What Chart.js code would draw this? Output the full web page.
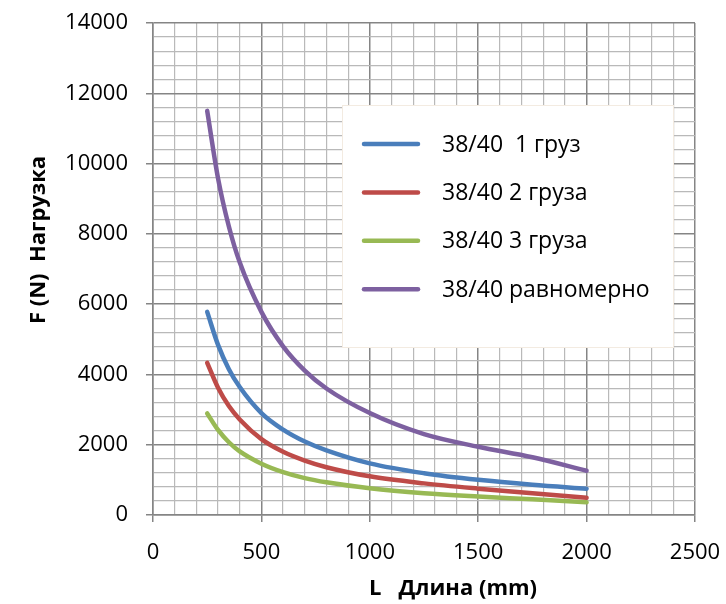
<!DOCTYPE html>
<html>
<head>
<meta charset="utf-8">
<script src="https://cdn.jsdelivr.net/npm/chart.js@4"></script>
<style>
  html, body { margin: 0; padding: 0; background: #fff; }
  #wrap { width: 726px; height: 604px; }
</style>
</head>
<body>
<div id="wrap"><canvas id="grafico"></canvas></div>
<script>
// длины пролёта, мм
const lengths = [250, 300, 350, 400, 500, 600, 700, 800, 1000, 1250, 1500, 1750, 2000];

// нагрузка F (N) по сериям
const load1 = [5780, 4840, 4150, 3640, 2900, 2430, 2090, 1840, 1470, 1190, 1000, 860, 750];
const load2 = [4330, 3620, 3100, 2720, 2160, 1800, 1550, 1360, 1100, 900, 750, 620, 490];
const load3 = [2890, 2420, 2070, 1810, 1460, 1220, 1050, 930, 760, 620, 525, 445, 360];
const loadUniform = [11500, 9580, 8210, 7190, 5780, 4800, 4110, 3600, 2900, 2300, 1940, 1643, 1260];

const seriesNames = ['38/40  1 груз', '38/40 2 груза', '38/40 3 груза', '38/40 равномерно'];
const seriesColors = ['#4a7ebb', '#be4b48', '#98b954', '#7d60a0'];

const xTitle = 'L   Длина (mm)';
const yTitle = 'F (N)  Нагрузка';

const majorGrid = '#858585';
const minorGrid = '#b9b9b9';
const FONT = '"Open Sans", sans-serif';

function toPoints(values) {
    return lengths.map((l, i) => ({ x: l, y: values[i] }));
}

const datasets = [load1, load2, load3, loadUniform].map((vals, i) => ({
    label: seriesNames[i],
    data: toPoints(vals),
    borderColor: seriesColors[i],
    backgroundColor: seriesColors[i],
    borderWidth: 4.5,
    borderCapStyle: 'round',
    borderJoinStyle: 'round',
    pointRadius: 0,
    cubicInterpolationMode: 'monotone',
    fill: false
}));

// легенда и подписи осей рисуются вручную, как в Excel
const excelDecor = {
    id: 'excelDecor',
    afterDraw(chart) {
        const ctx = chart.ctx;
        ctx.save();

        // рамка легенды
        ctx.fillStyle = '#ffffff';
        ctx.fillRect(342, 105, 332, 243);
        ctx.strokeStyle = '#f3ebe1';
        ctx.lineWidth = 1;
        ctx.strokeRect(342.5, 105.5, 331, 242);

        ctx.font = '23px ' + FONT;
        ctx.textBaseline = 'middle';
        ctx.textAlign = 'left';
        chart.data.datasets.forEach((ds, i) => {
            const y = 144 + i * 48.4;
            ctx.strokeStyle = ds.borderColor;
            ctx.lineWidth = 4.5;
            ctx.lineCap = 'round';
            ctx.beginPath();
            ctx.moveTo(364, y);
            ctx.lineTo(418, y);
            ctx.stroke();
            ctx.fillStyle = '#000';
            ctx.fillText(ds.label, 442, y + 1);
        });

        // подписи осей
        ctx.font = 'bold 22px ' + FONT;
        ctx.fillStyle = '#000';
        ctx.textAlign = 'center';
        ctx.fillText(xTitle, 453, 589);

        ctx.translate(39, 240);
        ctx.rotate(-Math.PI / 2);
        ctx.fillText(yTitle, 0, 0);
        ctx.restore();
    }
};

new Chart(document.getElementById('grafico'), {
    type: 'line',
    data: { datasets: datasets },
    options: {
        responsive: true,
        maintainAspectRatio: false,
        animation: false,
        layout: { padding: { left: 0, top: 23, right: 31, bottom: 0 } },
        plugins: {
            legend: { display: false },
            tooltip: { enabled: false }
        },
        scales: {
            x: {
                type: 'linear',
                min: 0,
                max: 2500,
                afterFit: (scale) => {
                    scale.height = 89;
                    scale.paddingLeft = 0;
                    scale.paddingRight = 0;
                },
                border: { color: majorGrid, width: 1.5 },
                grid: {
                    color: (c) => (c.tick && c.tick.value % 500 === 0) ? majorGrid : minorGrid,
                    lineWidth: (c) => (c.tick && c.tick.value % 500 === 0) ? 1.5 : 1.2,
                    tickColor: (c) => (c.tick && c.tick.value % 500 === 0) ? majorGrid : 'rgba(0,0,0,0)',
                    tickLength: 7
                },
                ticks: {
                    stepSize: 100,
                    maxTicksLimit: 100,
                    autoSkip: false,
                    maxRotation: 0,
                    padding: 18,
                    color: '#000',
                    font: { family: FONT, size: 22 },
                    callback: (v) => v % 500 === 0 ? String(v) : ''
                }
            },
            y: {
                min: 0,
                max: 14000,
                afterFit: (scale) => {
                    scale.width = 153;
                    scale.paddingTop = 0;
                    scale.paddingBottom = 0;
                },
                border: { color: majorGrid, width: 1.5 },
                grid: {
                    color: (c) => (c.tick && c.tick.value % 2000 === 0) ? majorGrid : minorGrid,
                    lineWidth: (c) => (c.tick && c.tick.value % 2000 === 0) ? 1.5 : 1.2,
                    tickColor: (c) => (c.tick && c.tick.value % 2000 === 0) ? majorGrid : 'rgba(0,0,0,0)',
                    tickLength: 7
                },
                ticks: {
                    stepSize: 400,
                    maxTicksLimit: 100,
                    autoSkip: false,
                    padding: 18,
                    color: '#000',
                    font: { family: FONT, size: 22 },
                    callback: (v) => v % 2000 === 0 ? String(v) : ''
                }
            }
        }
    },
    plugins: [excelDecor]
});
</script>
</body>
</html>
